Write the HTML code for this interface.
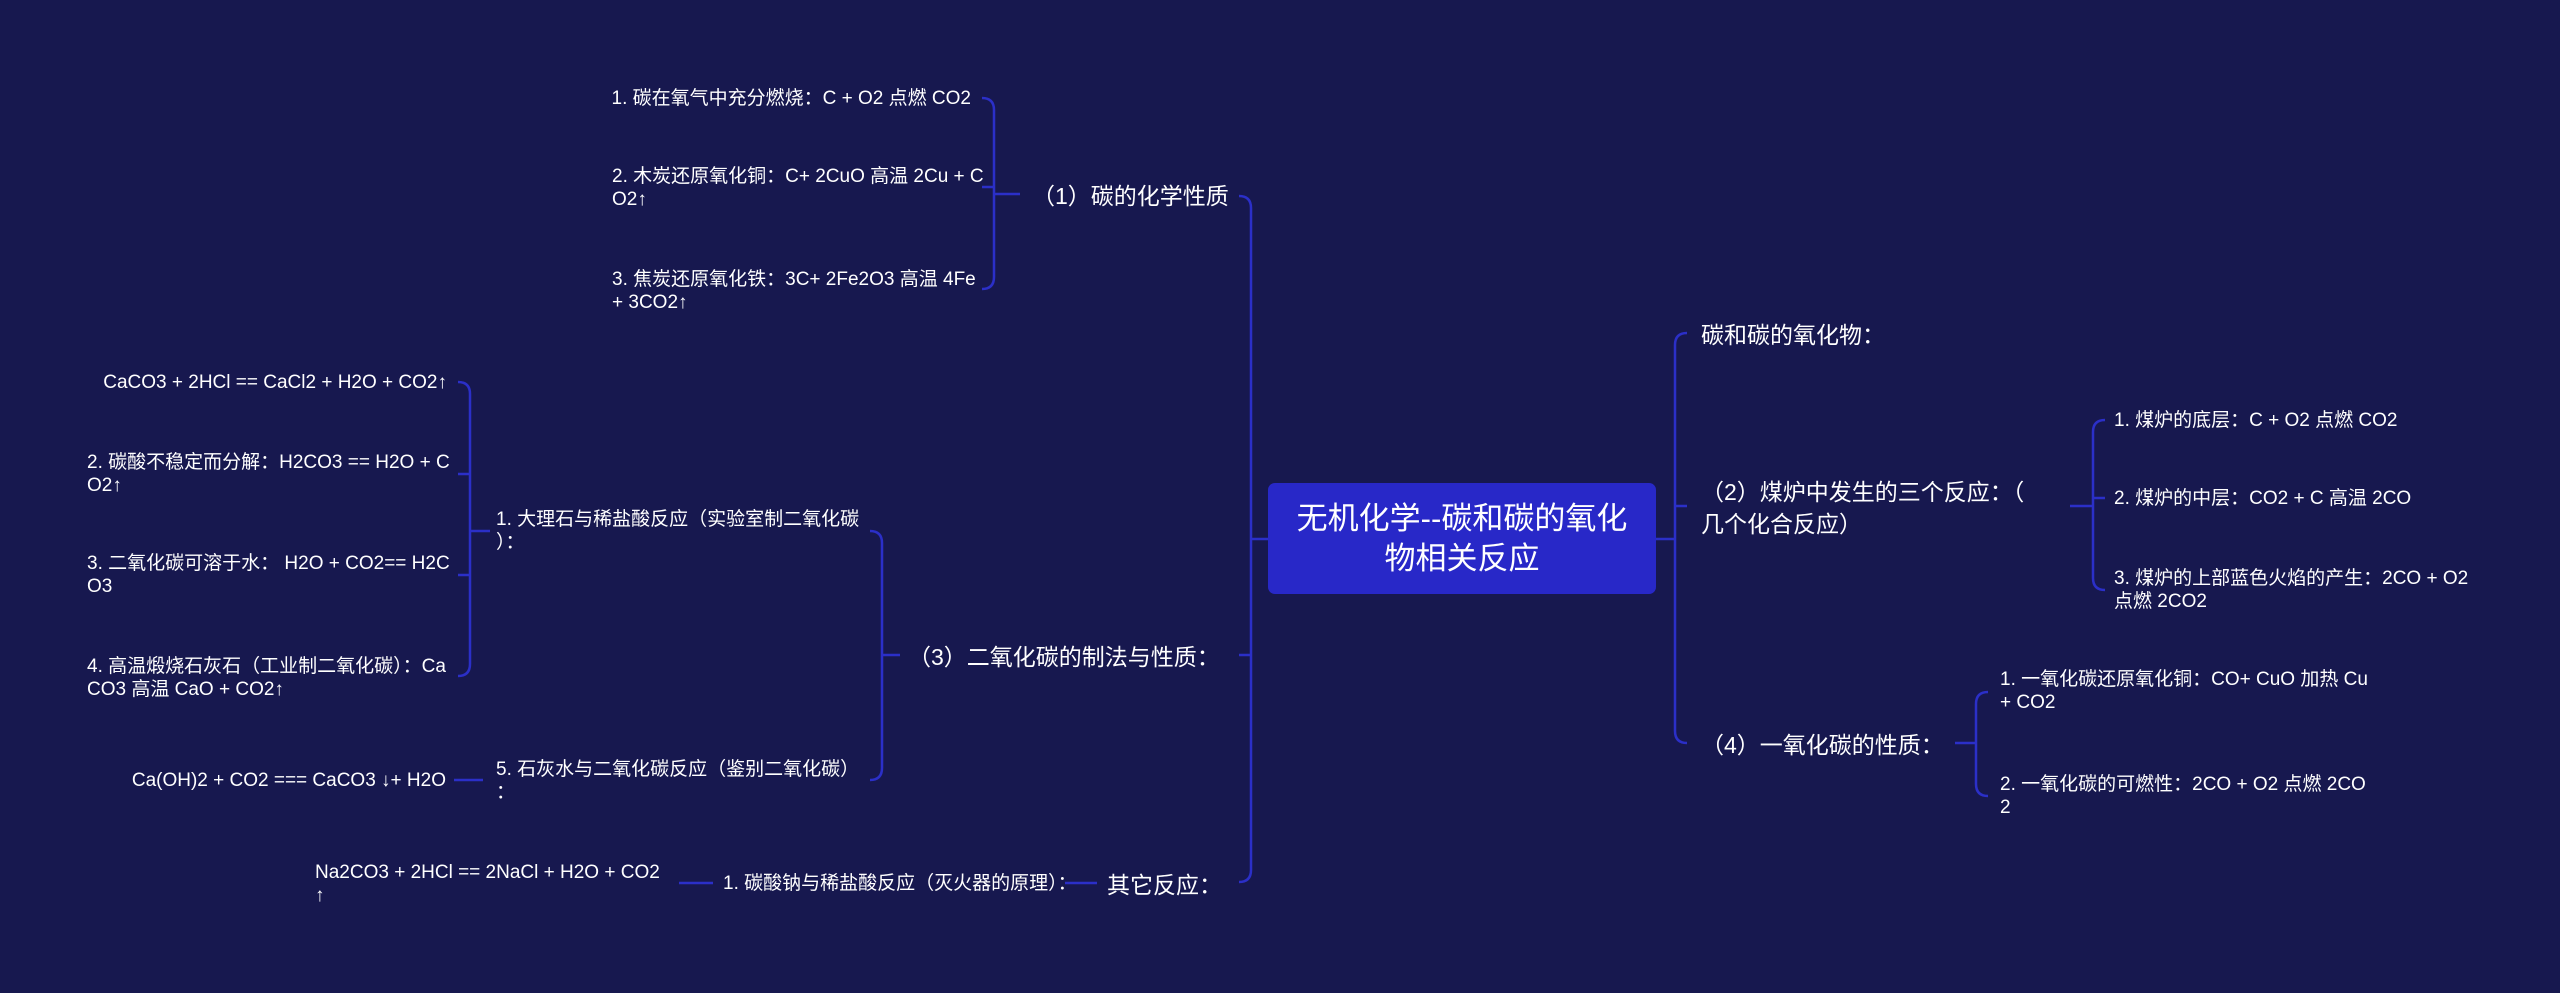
<!DOCTYPE html>
<html><head><meta charset="utf-8"><style>
body{margin:0;width:2560px;height:993px;background:#17184f;overflow:hidden;position:relative;font-family:"Liberation Sans","Noto Sans CJK SC",sans-serif;color:#fff}
.t{position:absolute;white-space:nowrap;font-size:19px;line-height:23px}
.m{position:absolute;white-space:nowrap;font-size:23px;line-height:32px}
svg{position:absolute;left:0;top:0}
</style></head><body>
<svg width="2560" height="993" fill="none" stroke="#2b2fc8" stroke-width="2.5">
<path d="M1239 196 Q1251 196 1251 208 L1251 870 Q1251 882 1239 882 M1251 655 L1239 655 M1251 539 L1268 539"/>
<path d="M982 98 Q994 98 994 110 L994 277 Q994 289 982 289 M994 187 L982 187 M994 194 L1020 194"/>
<path d="M870 531 Q882 531 882 543 L882 768 Q882 780 870 780 M882 655 L900 655"/>
<path d="M458 382 Q470 382 470 394 L470 664 Q470 676 458 676 M470 474 L458 474 M470 575 L458 575 M470 531 L490 531"/>
<path d="M454 780 L483 780 M1065 883 L1097 883 M679 883 L713 883"/>
<path d="M1687 333 Q1675 333 1675 345 L1675 731 Q1675 743 1687 743 M1675 506 L1687 506 M1656 539 L1675 539"/>
<path d="M2105 420 Q2093 420 2093 432 L2093 578 Q2093 590 2105 590 M2093 498 L2105 498 M2070 506 L2093 506"/>
<path d="M1988 692 Q1976 692 1976 704 L1976 784 Q1976 796 1988 796 M1955 743 L1976 743"/>
</svg>

<div style="position:absolute;left:1268px;top:483px;width:388px;height:111px;background:#2828c8;border-radius:7px;display:flex;align-items:center;justify-content:center;text-align:center;font-size:31px;line-height:40px;color:#fff">无机化学--碳和碳的氧化<br>物相关反应</div>

<div class="m" style="left:1032px;top:180px">（1）碳的化学性质</div>
<div class="t" style="right:1589px;top:87px">1. 碳在氧气中充分燃烧：C + O2 点燃 CO2</div>
<div class="t" style="left:612px;top:165px">2. 木炭还原氧化铜：C+ 2CuO 高温 2Cu + C<br>O2↑</div>
<div class="t" style="left:612px;top:268px">3. 焦炭还原氧化铁：3C+ 2Fe2O3 高温 4Fe<br>+ 3CO2↑</div>

<div class="m" style="left:908px;top:641px">（3）二氧化碳的制法与性质：</div>
<div class="t" style="left:496px;top:508px">1. 大理石与稀盐酸反应（实验室制二氧化碳<br>）：</div>
<div class="t" style="right:2113px;top:371px">CaCO3 + 2HCl == CaCl2 + H2O + CO2↑</div>
<div class="t" style="left:87px;top:451px">2. 碳酸不稳定而分解：H2CO3 == H2O + C<br>O2↑</div>
<div class="t" style="left:87px;top:552px">3. 二氧化碳可溶于水： H2O + CO2== H2C<br>O3</div>
<div class="t" style="left:87px;top:655px">4. 高温煅烧石灰石（工业制二氧化碳）：Ca<br>CO3 高温 CaO + CO2↑</div>
<div class="t" style="left:496px;top:758px">5. 石灰水与二氧化碳反应（鉴别二氧化碳）<br>：</div>
<div class="t" style="right:2114px;top:769px">Ca(OH)2 + CO2 === CaCO3 ↓+ H2O</div>

<div class="m" style="left:1107px;top:869px">其它反应：</div>
<div class="t" style="left:723px;top:872px">1. 碳酸钠与稀盐酸反应（灭火器的原理）：</div>
<div class="t" style="left:315px;top:861px">Na2CO3 + 2HCl == 2NaCl + H2O + CO2<br>↑</div>

<div class="m" style="left:1701px;top:319px">碳和碳的氧化物：</div>
<div class="m" style="left:1701px;top:476px">（2）煤炉中发生的三个反应：（<br>几个化合反应）</div>
<div class="t" style="left:2114px;top:409px">1. 煤炉的底层：C + O2 点燃 CO2</div>
<div class="t" style="left:2114px;top:487px">2. 煤炉的中层：CO2 + C 高温 2CO</div>
<div class="t" style="left:2114px;top:567px">3. 煤炉的上部蓝色火焰的产生：2CO + O2<br>点燃 2CO2</div>

<div class="m" style="left:1701px;top:729px">（4）一氧化碳的性质：</div>
<div class="t" style="left:2000px;top:668px">1. 一氧化碳还原氧化铜：CO+ CuO 加热 Cu<br>+ CO2</div>
<div class="t" style="left:2000px;top:773px">2. 一氧化碳的可燃性：2CO + O2 点燃 2CO<br>2</div>
</body></html>
